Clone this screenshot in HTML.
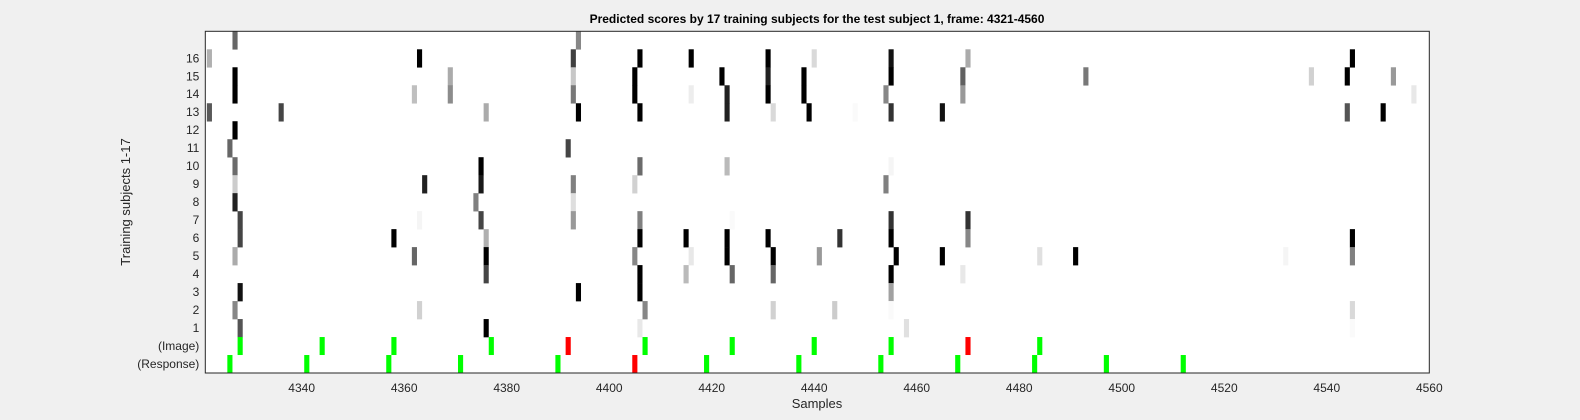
<!DOCTYPE html>
<html><head><meta charset="utf-8">
<style>
html,body{margin:0;padding:0;background:#f0f0f0;}
svg{display:block;font-family:"Liberation Sans",Arial,sans-serif;}
</style></head>
<body>
<svg id="chart" width="1580" height="420" viewBox="0 0 1580 420" xmlns="http://www.w3.org/2000/svg">
<rect x="0" y="0" width="1580" height="420" fill="#f0f0f0"/>
<rect x="205.3" y="31.3" width="1224" height="341.7" fill="#ffffff"/>
<g id="cells"></g>
<g id="markers"></g>
<g id="axes"></g>
<rect x="205.3" y="31.3" width="1224" height="341.7" fill="none" stroke="#262626" stroke-width="1"/>
<text x="817" y="23" text-anchor="middle" font-size="12" font-weight="bold" fill="#000">Predicted scores by 17 training subjects for the test subject 1, frame: 4321-4560</text>
<text x="817" y="408" text-anchor="middle" font-size="13" fill="#262626">Samples</text>
<text transform="translate(130,202) rotate(-90)" text-anchor="middle" font-size="13" fill="#262626">Training subjects 1-17</text>
</svg>
<script>
// heatmap cells: sample, subject row (1..17), score darkness (0 white .. 1 black)
const cellSamples = [4327,4322,4363,4327,4369,4327,4362,4369,4322,4336,4376,4327,4326,4327,4375,4327,4364,4375,4327,4374,4328,4363,4375,4328,4358,4376,4327,4362,4376,4376,4328,4327,4363,4328,4376,
4394,4393,4406,4416,4431,4393,4405,4422,4431,4438,4393,4405,4416,4423,4431,4438,4394,4406,4423,4432,4439,4392,4406,4423,4393,4405,4393,4393,4406,4424,4406,4415,4423,4431,4405,4416,4423,4432,4406,4415,4424,4432,4394,4406,4407,4432,4406,
4440,4455,4470,4455,4469,4493,4454,4469,4448,4455,4465,4455,4454,4455,4470,4445,4455,4470,4441,4456,4465,4484,4491,4455,4469,4455,4444,4455,4458,
4545,4537,4544,4553,4557,4544,4551,4545,4532,4545,4545,4545];
const cellSubjects = [17,16,16,15,15,14,14,14,13,13,13,12,11,10,10,9,9,9,8,8,7,7,7,6,6,6,5,5,5,4,3,2,2,1,1,
17,16,16,16,16,15,15,15,15,15,14,14,14,14,14,14,13,13,13,13,13,11,10,10,9,9,8,7,7,7,6,6,6,6,5,5,5,5,4,4,4,4,3,3,2,2,1,
16,16,16,15,15,15,14,14,13,13,13,10,9,7,7,6,6,6,5,5,5,5,5,4,4,3,2,2,1,
16,15,15,15,14,13,13,6,5,5,2,1];
const cellScores = [0.6,0.31,1,1,0.33,1,0.25,0.45,0.65,0.73,0.33,1,0.6,0.58,1,0.2,0.87,0.9,0.87,0.5,0.73,0.04,0.73,0.73,1,0.31,0.33,0.6,1,0.73,0.93,0.47,0.18,0.67,1,
0.47,0.75,1,1,1,0.22,1,1,0.87,1,0.53,1,0.07,0.87,1,1,1,1,0.87,0.15,1,0.73,0.58,0.27,0.5,0.18,0.13,0.4,0.5,0.02,1,1,1,1,0.47,0.09,1,1,1,0.27,0.6,0.6,1,1,0.47,0.18,0.09,
0.15,0.93,0.33,1,0.62,0.53,0.47,0.4,0.02,0.8,0.93,0.04,0.5,0.8,0.8,0.8,1,0.47,0.4,1,1,0.12,1,1,0.09,0.37,0.2,0.02,0.12,
1,0.18,1,0.4,0.09,0.67,1,1,0.04,0.5,0.15,0.02];
// event markers
const imageSamples = [4328,4344,4358,4377,4392,4407,4424,4440,4455,4470,4484];
const imageCorrect = [1,1,1,1,0,1,1,1,1,0,1];
const responseSamples = [4326,4341,4357,4371,4390,4405,4419,4437,4453,4468,4483,4497,4512];
const responseCorrect = [1,1,1,1,1,0,1,1,1,1,1,1,1];
const xTicks = [4340,4360,4380,4400,4420,4440,4460,4480,4500,4520,4540,4560];
const yTickLabels = ["16","15","14","13","12","11","10","9","8","7","6","5","4","3","2","1","(Image)","(Response)"];

const NS="http://www.w3.org/2000/svg";
const L=205.3,T=31.3,W=1224,H=341.7,ROWS=19;
const X0=4321.2,X1=4560;
const pxPer=W/(X1-X0);
const rowH=H/ROWS;
function xScale(s){return L+(s-X0)*pxPer;}
function rowTop(i){return T+i*rowH;}
function subjectRow(sub){return 17-sub;}
function mk(tag,attrs,parent){const e=document.createElementNS(NS,tag);for(const k in attrs)e.setAttribute(k,attrs[k]);parent.appendChild(e);return e;}

const cg=document.getElementById('cells');
for(let i=0;i<cellSamples.length;i++){
  const g=Math.round(255*(1-cellScores[i]));
  let x=xScale(cellSamples[i]-0.5),w=pxPer;
  if(x<L){w-=L-x;x=L;}
  const r=mk('rect',{x:x,y:rowTop(subjectRow(cellSubjects[i])),width:w,height:rowH+0.3,fill:`rgb(${g},${g},${g})`},cg);
  
  
}
const mg=document.getElementById('markers');
function drawMarkers(samples,correct,row,name){
  for(let i=0;i<samples.length;i++){
    const r=mk('rect',{x:xScale(samples[i]-0.5),y:rowTop(row),width:pxPer,height:rowH,fill:correct[i]?'#00ff00':'#ff0000'},mg);
    
    
  }
}
drawMarkers(imageSamples,imageCorrect,17,'image-marker');
drawMarkers(responseSamples,responseCorrect,18,'response-marker');

const ag=document.getElementById('axes');
xTicks.forEach(t=>{
  const x=xScale(t);
  const tx=mk('text',{x:x,y:T+H+19,'text-anchor':'middle','font-size':12,fill:'#262626'},ag);
  tx.textContent=t;
  
  
});
yTickLabels.forEach((lab,i)=>{
  const y=rowTop(i+1)+rowH/2;
  const tx=mk('text',{x:L-6,y:y+4,'text-anchor':'end','font-size':12,fill:'#262626'},ag);
  tx.textContent=lab;
  
  
});
</script>
</body></html>
